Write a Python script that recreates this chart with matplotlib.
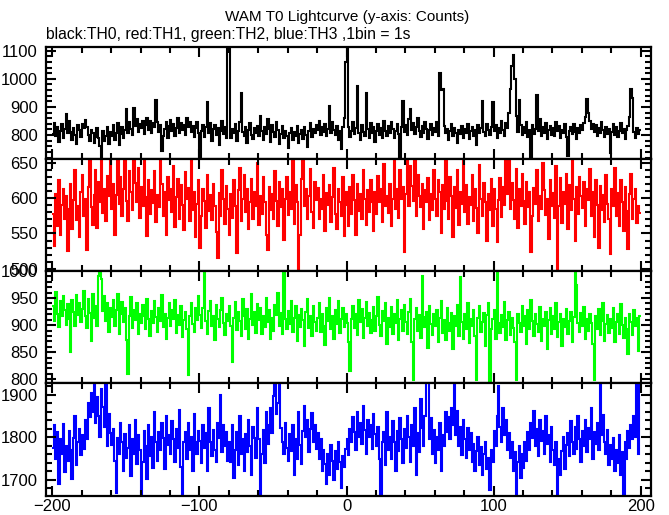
import numpy as np
import matplotlib
matplotlib.use("Agg")
import matplotlib.pyplot as plt
from matplotlib.ticker import MultipleLocator

plt.rcParams['font.family'] = ['Liberation Sans', 'DejaVu Sans']

# time bin edges: 1 s bins from -200 to 200
t_start, t_stop = -200, 200

th0 = [
    805, 842, 798, 830, 776, 815, 838, 790, 822, 875, 808, 850, 812, 784, 826, 801, 770, 835, 817, 793,
    840, 826, 855, 828, 799, 780, 817, 806, 772, 794, 825, 788, 760, 717, 815, 779, 798, 830, 768, 812,
    796, 835, 781, 809, 842, 763, 803, 827, 790, 818, 893, 806, 845, 822, 799, 895, 832, 858, 811, 840,
    826, 849, 803, 837, 862, 818, 851, 808, 843, 828, 923, 845, 812, 836, 743, 798, 820, 845, 789, 831,
    854, 816, 838, 797, 825, 862, 808, 843, 819, 835, 801, 860, 827, 846, 812, 833, 792, 824, 848, 806,
    721, 815, 836, 794, 829, 918, 808, 842, 780, 822, 837, 799, 826, 764, 813, 851, 803, 830, 789, 1115,
    1115, 790, 822, 806, 838, 779, 815, 847, 948, 812, 796, 829, 773, 818, 842, 801, 787, 826, 809, 834,
    797, 868, 815, 784, 829, 805, 857, 821, 776, 836, 810, 793, 845, 818, 770, 803, 832, 788, 815, 796,
    753, 808, 826, 781, 812, 795, 834, 772, 803, 819, 787, 829, 800, 756, 815, 842, 793, 820, 808, 836,
    817, 850, 802, 829, 812, 838, 795, 823, 903, 809, 846, 818, 799, 832, 781, 814, 750, 828, 862, 1060,
    1115, 830, 792, 815, 848, 803, 826, 975, 809, 784, 837, 812, 796, 950, 821, 790, 843, 807, 828, 775,
    814, 839, 802, 826, 788, 851, 815, 797, 833, 809, 846, 822, 791, 815, 838, 804, 721, 829, 920, 812,
    837, 799, 856, 891, 818, 843, 805, 828, 862, 815, 794, 831, 808, 847, 823, 786, 819, 839, 801, 826,
    812, 845, 798, 1020, 960, 962, 832, 806, 821, 784, 815, 838, 797, 826, 809, 772, 818, 803, 834, 790,
    822, 807, 841, 785, 813, 829, 796, 818, 764, 836, 808, 825, 920, 811, 795, 840, 817, 802, 829, 917,
    813, 836, 790, 824, 808, 851, 819, 797, 842, 826, 879, 965, 1045, 1085, 1000, 868, 812, 924, 835, 801,
    827, 809, 846, 792, 818, 721, 837, 805, 823, 944, 813, 856, 798, 830, 807, 842, 786, 819, 834, 801,
    826, 795, 845, 814, 832, 788, 819, 807, 838, 792, 727, 815, 829, 803, 841, 811, 786, 824, 809, 835,
    817, 842, 864, 929, 878, 851, 822, 840, 812, 836, 798, 825, 809, 847, 818, 793, 830, 805, 821, 736,
    812, 838, 801, 827, 794, 816, 842, 808, 823, 786, 819, 834, 863, 964, 930, 812, 789, 826, 803, 818,
]

th1 = [
    578, 532, 606, 560, 625, 548, 590, 612, 571, 603, 525, 584, 620, 556, 597, 640, 569, 588, 545, 609,
    633, 574, 598, 527, 615, 652, 587, 562, 604, 640, 558, 622, 595, 655, 579, 612, 568, 631, 603, 660,
    585, 620, 548, 604, 661, 592, 630, 575, 612, 658, 596, 567, 638, 609, 583, 656, 621, 594, 642, 572,
    615, 588, 660, 602, 546, 625, 578, 611, 593, 638, 566, 604, 587, 659, 620, 575, 608, 548, 630, 597,
    612, 580, 645, 559, 602, 627, 571, 618, 590, 555, 636, 598, 614, 567, 661, 583, 609, 545, 592, 626,
    530, 574, 612, 596, 558, 633, 581, 604, 569, 620, 589, 552, 516, 607, 575, 640, 598, 563, 617, 585,
    548, 606, 572, 625, 589, 522, 611, 643, 567, 598, 633, 580, 612, 556, 594, 627, 571, 609, 588, 650,
    562, 603, 578, 629, 594, 548, 526, 616, 583, 605, 571, 638, 596, 560, 622, 587, 612, 541, 599, 630,
    576, 608, 585, 655, 563, 619, 594, 495, 548, 627, 660, 589, 612, 571, 603, 641, 580, 558, 623, 597,
    614, 570, 598, 585, 632, 554, 607, 590, 619, 566, 601, 643, 578, 556, 612, 595, 574, 629, 546, 608,
    590, 560, 615, 578, 633, 597, 548, 620, 582, 606, 571, 640, 598, 562, 611, 580, 625, 594, 553, 608,
    577, 631, 595, 612, 566, 648, 588, 603, 579, 620, 560, 598, 661, 585, 613, 572, 640, 599, 615, 524,
    606, 662, 588, 645, 617, 596, 658, 574, 632, 603, 587, 620, 556, 611, 594, 628, 569, 606, 583, 640,
    598, 575, 625, 609, 551, 618, 584, 661, 596, 570, 629, 603, 545, 615, 586, 639, 562, 608, 592, 655,
    580, 618, 564, 602, 590, 633, 568, 612, 586, 550, 647, 598, 574, 621, 594, 540, 606, 583, 627, 560,
    612, 585, 538, 597, 628, 573, 615, 590, 659, 606, 662, 584, 621, 597, 570, 641, 558, 612, 589, 634,
    596, 563, 622, 587, 608, 524, 575, 614, 592, 640, 567, 603, 585, 650, 611, 576, 598, 542, 626, 589,
    607, 572, 645, 494, 588, 628, 565, 609, 592, 634, 556, 618, 583, 662, 598, 540, 615, 577, 630, 603,
    586, 622, 560, 613, 597, 641, 574, 608, 545, 625, 590, 530, 617, 583, 604, 566, 632, 592, 571, 521,
    612, 588, 643, 575, 607, 560, 625, 594, 553, 616, 581, 528, 605, 634, 570, 598, 612, 565, 589, 579,
]

th2 = [
    935, 908, 962, 921, 897, 944, 916, 953, 928, 901, 939, 912, 851, 947, 925, 898, 956, 918, 940, 905,
    930, 963, 917, 894, 948, 922, 871, 957, 913, 936, 899, 990, 1005, 985, 926, 954, 908, 941, 887, 932,
    915, 946, 899, 927, 958, 884, 920, 943, 906, 931, 872, 810, 917, 952, 895, 928, 909, 940, 883, 921,
    904, 938, 917, 892, 949, 912, 880, 926, 903, 945, 915, 887, 932, 908, 955, 896, 921, 874, 913, 940,
    898, 927, 912, 946, 885, 918, 901, 935, 878, 909, 925, 893, 807, 916, 940, 902, 887, 931, 910, 954,
    919, 895, 932, 996, 908, 884, 926, 945, 899, 917, 872, 938, 911, 896, 928, 950, 903, 882, 921, 907,
    936, 898, 831, 914, 942, 891, 925, 907, 880, 948, 916, 893, 930, 875, 912, 957, 901, 924, 886, 939,
    909, 932, 883, 917, 896, 951, 905, 928, 874, 913, 890, 937, 918, 960, 899, 922, 884, 1005, 911, 893,
    926, 902, 945, 888, 914, 935, 871, 918, 897, 930, 909, 862, 924, 948, 894, 917, 880, 936, 906, 890,
    913, 941, 887, 920, 899, 864, 932, 908, 951, 893, 916, 875, 927, 902, 944, 886, 911, 932, 897, 920,
    903, 868, 816, 912, 936, 894, 921, 882, 947, 905, 929, 876, 913, 942, 898, 923, 885, 909, 934, 890,
    917, 952, 901, 879, 926, 908, 941, 865, 914, 897, 933, 883, 920, 903, 946, 872, 911, 928, 890, 937,
    906, 884, 925, 948, 869, 798, 912, 932, 889, 918, 877, 991, 915, 896, 924, 858, 935, 902, 881, 920,
    898, 927, 869, 913, 945, 886, 909, 873, 931, 904, 889, 922, 856, 917, 898, 937, 880, 989, 906, 875,
    920, 892, 941, 867, 911, 898, 927, 880, 798, 914, 935, 887, 905, 922, 862, 918, 940, 796, 893, 911,
    928, 874, 1005, 903, 886, 919, 897, 943, 872, 909, 925, 881, 914, 895, 868, 798, 921, 904, 888, 936,
    899, 917, 865, 928, 893, 946, 908, 879, 921, 902, 887, 933, 870, 912, 898, 925, 856, 909, 931, 884,
    916, 893, 940, 878, 905, 921, 861, 912, 896, 930, 883, 907, 924, 869, 915, 1005, 975, 903, 887, 922,
    898, 934, 875, 911, 889, 921, 904, 866, 798, 917, 893, 929, 882, 908, 940, 871, 902, 919, 886, 912,
    895, 932, 868, 906, 921, 884, 939, 901, 876, 914, 893, 846, 920, 905, 882, 928, 899, 913, 852, 917,
]

th3 = [
    1775, 1828, 1750, 1812, 1690, 1795, 1760, 1832, 1718, 1780, 1745, 1815, 1770, 1702, 1798, 1850, 1735, 1790, 1820, 1758,
    1805, 1772, 1840, 1796, 1880, 1848, 1905, 1860, 1930, 1835, 1895, 1850, 1800, 1915, 1872, 1825, 1930, 1780, 1855, 1810,
    1782, 1820, 1745, 1670, 1798, 1760, 1835, 1790, 1720, 1808, 1752, 1775, 1830, 1710, 1795, 1762, 1840, 1738, 1805, 1770,
    1655, 1742, 1815, 1780, 1702, 1830, 1755, 1800, 1728, 1860, 1790, 1745, 1812, 1770, 1835, 1798, 1725, 1850, 1782, 1805,
    1760, 1838, 1795, 1742, 1820, 1775, 1865, 1730, 1655, 1790, 1812, 1748, 1835, 1770, 1800, 1722, 1855, 1788, 1760, 1815,
    1792, 1740, 1830, 1775, 1810, 1722, 1868, 1790, 1755, 1818, 1770, 1742, 1835, 1798, 1900, 1765, 1828, 1780, 1812, 1745,
    1790, 1742, 1830, 1705, 1770, 1812, 1735, 1850, 1760, 1795, 1722, 1808, 1765, 1840, 1780, 1712, 1825, 1798, 1752, 1870,
    1795, 1655, 1762, 1818, 1740, 1860, 1785, 1828, 1870, 1810, 1898, 1935, 1855, 1880, 1935, 1822, 1790, 1760, 1835, 1775,
    1745, 1808, 1768, 1830, 1712, 1795, 1750, 1860, 1782, 1738, 1815, 1875, 1800, 1842, 1765, 1820, 1858, 1790, 1830, 1772,
    1810, 1748, 1795, 1720, 1770, 1738, 1690, 1760, 1712, 1782, 1745, 1700, 1768, 1725, 1790, 1742, 1680, 1755, 1730, 1772,
    1795, 1758, 1820, 1790, 1848, 1812, 1770, 1860, 1802, 1835, 1785, 1875, 1818, 1760, 1842, 1800, 1830, 1772, 1855, 1808,
    1780, 1825, 1748, 1655, 1790, 1812, 1735, 1860, 1770, 1802, 1750, 1838, 1790, 1722, 1815, 1768, 1845, 1795, 1740, 1820,
    1775, 1850, 1800, 1742, 1830, 1780, 1868, 1712, 1810, 1765, 1890, 1822, 1780, 1850, 1935, 1930, 1795, 1845, 1760, 1818,
    1740, 1800, 1770, 1835, 1722, 1805, 1780, 1860, 1812, 1848, 1795, 1870, 1830, 1935, 1805, 1862, 1780, 1825, 1758, 1840,
    1795, 1752, 1822, 1770, 1810, 1742, 1785, 1720, 1768, 1800, 1735, 1778, 1712, 1760, 1790, 1725, 1752, 1675, 1770, 1742,
    1815, 1780, 1850, 1921, 1825, 1790, 1868, 1805, 1842, 1770, 1810, 1752, 1788, 1720, 1765, 1655, 1742, 1780, 1705, 1760,
    1728, 1790, 1745, 1812, 1770, 1835, 1798, 1862, 1780, 1820, 1755, 1840, 1792, 1815, 1760, 1850, 1785, 1805, 1742, 1825,
    1770, 1735, 1790, 1655, 1750, 1712, 1768, 1800, 1725, 1782, 1810, 1755, 1838, 1790, 1760, 1825, 1772, 1850, 1795, 1742,
    1815, 1780, 1842, 1765, 1822, 1795, 1870, 1748, 1812, 1785, 1835, 1770, 1935, 1805, 1852, 1790, 1760, 1818, 1735, 1782,
    1750, 1798, 1722, 1770, 1740, 1805, 1712, 1765, 1660, 1790, 1748, 1815, 1775, 1830, 1795, 1850, 1800, 1935, 1760, 1935,
]

series = [th0, th1, th2, th3]
colors = ['black', '#ff0000', '#00ff00', '#0000ff']
ylims = [(715, 1113), (497, 655), (793, 1000), (1662, 1928)]
ymajor = [100, 50, 50, 100]
yminor = [20, 10, 10, 20]

title = "WAM T0 Lightcurve (y-axis: Counts)"
subtitle = "black:TH0, red:TH1, green:TH2, blue:TH3 ,1bin = 1s"

W, H = 669, 515
fig = plt.figure(figsize=(W / 100, H / 100), dpi=100)

edges_px = [47, 159, 271, 383, 496]
left_px, right_px = 46, 651
t_edges = np.arange(t_start, t_stop + 1)

axes = []
for k in range(4):
    top, bot = edges_px[k], edges_px[k + 1]
    ax = fig.add_axes([left_px / W, 1 - bot / H, (right_px - left_px) / W, (bot - top) / H])
    ax.stairs(series[k], t_edges, color=colors[k], lw=1.5, baseline=None)
    ax.set_xlim(-204.3, 207)
    ax.set_ylim(*ylims[k])
    ax.xaxis.set_major_locator(MultipleLocator(100))
    ax.xaxis.set_minor_locator(MultipleLocator(20))
    ax.yaxis.set_major_locator(MultipleLocator(ymajor[k]))
    ax.yaxis.set_minor_locator(MultipleLocator(yminor[k]))
    ax.tick_params(which='both', direction='in', top=True, right=True, width=1.5,
                   labelsize=12, colors='black')
    ax.tick_params(which='major', length=7, pad=6)
    ax.tick_params(which='minor', length=4)
    for s in ax.spines.values():
        s.set_linewidth(1.6)
    if k < 3:
        ax.tick_params(labelbottom=False)
    else:
        ax.tick_params(axis='x', pad=2)
    axes.append(ax)

fig.text(347 / W, 1 - 17 / H, title, ha='center', va='center', fontsize=11)
fig.text(46 / W, 1 - 35 / H, subtitle, ha='left', va='center', fontsize=11.3)

fig.savefig('out.png', dpi=100)
